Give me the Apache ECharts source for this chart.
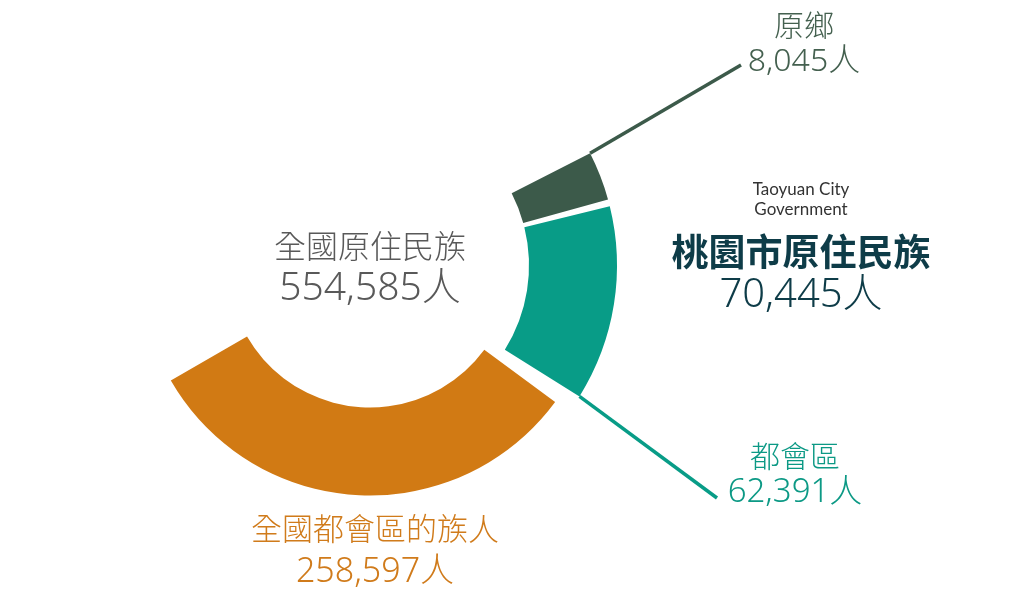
<!DOCTYPE html>
<html>
<head>
<meta charset="utf-8">
<title>桃園市原住民族</title>
<script src="https://cdn.jsdelivr.net/npm/echarts@6/dist/echarts.min.js"></script>
<style>
html, body { margin: 0; padding: 0; background: #fff; }
#chart { width: 1024px; height: 594px; }
</style>
</head>
<body>
<div id="chart"></div>
<script>
// people counts shown on the chart
const groupNames = ['全國都會區的族人', '都會區', '原鄉']
const groupPeople = [258597, 62391, 8045]
// sweep of each ring piece in degrees (the arcs are not drawn to scale)
const arcSweep = [113.6, 45.9, 11.5]
const totalName = '全國原住民族'
const totalPeople = 554585
const cityName = '桃園市原住民族'
const cityNameEn = 'Taoyuan City\nGovernment'
const cityPeople = 70445

const colors = ['#d17a14', '#089c87', '#3c5a4a']
const textColors = ['#d07b1b', '#0c9985', '#44604f']
const FONT = "'Noto Sans CJK TC', 'Noto Sans', sans-serif"
// digits look wider than the CJK font's own, so take them from Noto Sans
const NUM_FONT = "'Noto Sans', 'Noto Sans CJK TC', sans-serif"
const CENTER = [370, 265.5]

const fmt = n => n.toLocaleString('en-US') + '人'

const polar = (deg, r) => {
  const a = deg * Math.PI / 180
  return [CENTER[0] + r * Math.cos(a), CENTER[1] - r * Math.sin(a)]
}

// layout of each piece: start angle (drawn clockwise), radii, label centre, leader line
const pieces = [
  { start: -36.4, radius: [142, 230], label: [375, 550], lh: 44, nameSize: 31, numSize: 34 },
  { start: 13.9, radius: [159, 247], label: [795, 474.5], lh: 37, nameSize: 30, numSize: 33, lineFrom: 'end', lineEnd: [717, 498] },
  { start: 27, radius: [159, 247], label: [804, 43.5], lh: 37, nameSize: 30, numSize: 32, lineFrom: 'start', lineEnd: [741, 65] }
]

const series = pieces.map((p, i) => ({
  type: 'pie',
  center: CENTER,
  radius: p.radius,
  startAngle: p.start,
  clockwise: true,
  silent: true,
  animation: false,
  avoidLabelOverlap: false,
  itemStyle: { borderWidth: 0 },
  label: {
    show: true,
    position: 'outside',
    formatter: () => `{n|${groupNames[i]}}\n{v|${fmt(groupPeople[i])}}`,
    rich: {
      n: { fontSize: p.nameSize, lineHeight: p.lh, color: textColors[i], fontFamily: FONT, fontWeight: 300 },
      v: { fontSize: p.numSize, lineHeight: p.lh, color: textColors[i], fontFamily: NUM_FONT, fontWeight: 300 }
    }
  },
  labelLine: {
    show: !!p.lineEnd,
    lineStyle: { width: 3.5, color: colors[i] }
  },
  labelLayout: params => {
    if (params.dataIndex !== 0) return {}
    const out = { x: p.label[0], y: p.label[1], align: 'center', verticalAlign: 'middle' }
    if (p.lineEnd) {
      const edge = p.lineFrom === 'start' ? p.start : p.start - arcSweep[i]
      const s = polar(edge, p.radius[1])
      out.labelLinePoints = [s, p.lineEnd, p.lineEnd]
    }
    return out
  },
  data: [
    { value: arcSweep[i], name: groupNames[i], itemStyle: { color: colors[i] } },
    {
      value: 360 - arcSweep[i],
      name: '',
      itemStyle: { color: 'rgba(0,0,0,0)' },
      label: { show: false },
      labelLine: { show: false }
    }
  ]
}))

const chart = echarts.init(document.getElementById('chart'))
chart.setOption({
  backgroundColor: '#fff',
  animation: false,
  series,
  graphic: [
    {
      type: 'text',
      x: CENTER[0],
      y: 267,
      silent: true,
      style: {
        text: `{n|${totalName}}\n{v|${fmt(totalPeople)}}`,
        align: 'center',
        verticalAlign: 'middle',
        textAlign: 'center',
        textVerticalAlign: 'middle',
        rich: {
          n: { fontSize: 32, lineHeight: 43, fill: '#595959', fontFamily: FONT, fontWeight: 300 },
          v: { fontSize: 39, lineHeight: 43, fill: '#595959', fontFamily: NUM_FONT, fontWeight: 300 }
        }
      }
    },
    {
      type: 'text',
      x: 801,
      y: 200,
      silent: true,
      style: {
        text: cityNameEn,
        align: 'center',
        verticalAlign: 'middle',
        textAlign: 'center',
        textVerticalAlign: 'middle',
        fontSize: 17,
        lineHeight: 20,
        fontFamily: "Lato, 'Noto Sans', sans-serif",
        fill: '#333333'
      }
    },
    {
      type: 'text',
      x: 801,
      y: 273.5,
      silent: true,
      style: {
        text: `{n|${cityName}}\n{v|${fmt(cityPeople)}}`,
        align: 'center',
        verticalAlign: 'middle',
        textAlign: 'center',
        textVerticalAlign: 'middle',
        rich: {
          n: { fontSize: 37, lineHeight: 44, fill: '#0e3c48', fontFamily: FONT, fontWeight: 'bold' },
          v: { fontSize: 40, lineHeight: 44, fill: '#0e3c48', fontFamily: NUM_FONT, fontWeight: 300 }
        }
      }
    }
  ]
})
window.addEventListener('resize', () => chart.resize())
</script>
</body>
</html>
